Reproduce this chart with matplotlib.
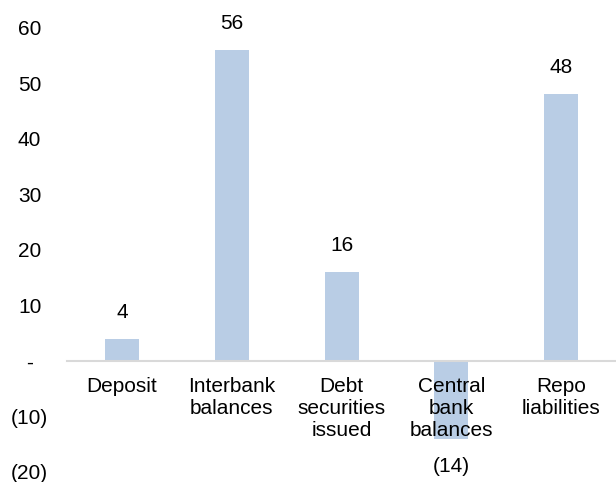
import matplotlib
matplotlib.use("Agg")
import matplotlib.pyplot as plt
from matplotlib.ticker import FuncFormatter

plt.rcParams["font.family"] = ["Liberation Sans", "DejaVu Sans"]

categories = ["Deposit", "Interbank\nbalances", "Debt\nsecurities\nissued",
              "Central\nbank\nbalances", "Repo\nliabilities"]
values = [4, 56, 16, -14, 48]
yticks = [-20, -10, 0, 10, 20, 30, 40, 50, 60]

BAR = "#b9cde5"
FS = 15


def fmt(v, _pos):
    v = int(round(v))
    if v == 0:
        return "-"
    if v < 0:
        return f"({-v})"
    return str(v)


fig = plt.figure(figsize=(6.16, 4.82), dpi=100)
ax = fig.add_axes([0.109, 0.021, 0.891, 0.922])

x = list(range(len(values)))
ax.bar(x, values, width=0.31, color=BAR, zorder=1)

# value labels above / below each bar
for xi, v in zip(x, values):
    label = str(v) if v >= 0 else f"({-v})"
    off = 19 if v >= 0 else -20
    ax.annotate(label, (xi, v), xytext=(0, off), textcoords="offset points",
                ha="center", va="center", fontsize=FS)

ax.set_xlim(-0.5, len(values) - 0.5)
ax.set_ylim(-20, 60)
ax.set_yticks(yticks)
ax.yaxis.set_major_formatter(FuncFormatter(fmt))
ax.tick_params(axis="y", length=0, pad=27, labelsize=FS)
for t in ax.get_yticklabels():
    t.set_horizontalalignment("center")

ax.set_xticks(x)
ax.tick_params(axis="x", length=0, pad=12, labelsize=FS)
ax.set_xticklabels(categories, linespacing=1.07)
ax.xaxis.set_zorder(5)
ax.set_axisbelow(False)

for s in ["top", "right", "left"]:
    ax.spines[s].set_visible(False)
ax.spines["bottom"].set_position(("data", 0))
ax.spines["bottom"].set_color("#d9d9d9")
ax.spines["bottom"].set_linewidth(1.5)
ax.spines["bottom"].set_zorder(3)

fig.savefig("out.png", dpi=100)
